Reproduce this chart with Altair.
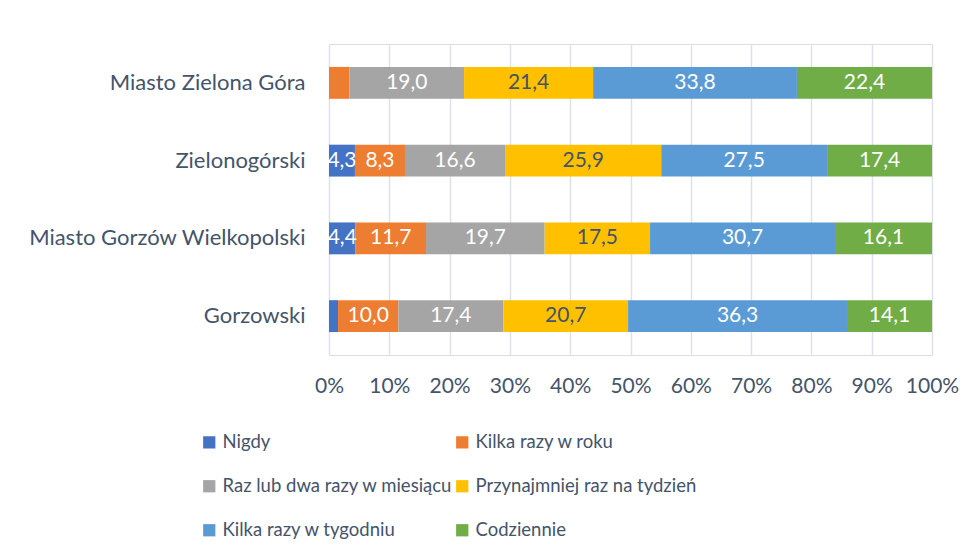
import altair as alt
import pandas as pd

categories = ["Miasto Zielona Góra", "Zielonogórski", "Miasto Gorzów Wielkopolski", "Gorzowski"]
series = ["Nigdy", "Kilka razy w roku", "Raz lub dwa razy w miesiącu",
          "Przynajmniej raz na tydzień", "Kilka razy w tygodniu", "Codziennie"]
colors = ["#4472C4", "#ED7D31", "#A5A5A5", "#FFC000", "#5B9BD5", "#70AD47"]
label_colors = ["#FFFFFF", "#FFFFFF", "#FFFFFF", "#44546A", "#FFFFFF", "#FFFFFF"]

nigdy = [0.0, 4.3, 4.4, 1.5]
kilka_rok = [3.4, 8.3, 11.7, 10.0]
raz_dwa = [19.0, 16.6, 19.7, 17.4]
przynajmniej = [21.4, 25.9, 17.5, 20.7]
kilka_tydz = [33.8, 27.5, 30.7, 36.3]
codziennie = [22.4, 17.4, 16.1, 14.1]
values = [nigdy, kilka_rok, raz_dwa, przynajmniej, kilka_tydz, codziennie]

rows = []
for si, (s, vals) in enumerate(zip(series, values)):
    for c, v in zip(categories, vals):
        rows.append({"cat": c, "series": s, "order": si, "v": v, "lc": label_colors[si]})
df = pd.DataFrame(rows)

FONT = "Lato"
TXT = "#44546A"
FS = 21

base = alt.Chart(df).transform_stack(
    stack="v", as_=["x0", "x1"], groupby=["cat"], sort=[alt.SortField("order")], offset="normalize"
)

y_enc = alt.Y("cat:N", sort=categories, title=None,
              scale=alt.Scale(paddingInner=0.59, paddingOuter=0.295),
              axis=alt.Axis(labelFontSize=22, labelColor=TXT, labelFont=FONT, ticks=False,
                            domain=False, labelPadding=24, grid=False, labelLimit=0))

bars = base.mark_bar().encode(
    x=alt.X("x0:Q", title=None, scale=alt.Scale(domain=[0, 1]),
            axis=alt.Axis(format="%", values=[i / 10 for i in range(11)], labelFontSize=FS,
                          labelColor=TXT, labelFont=FONT, ticks=False, domain=False,
                          labelOverlap=False, labelFlush=False,
                          labelPadding=20, grid=True, gridColor="#DDE1E8", gridWidth=1.5)),
    x2="x1:Q",
    y=y_enc,
    color=alt.Color("series:N", sort=series,
                    scale=alt.Scale(domain=series, range=colors),
                    legend=alt.Legend(title=None, orient="none", legendX=-129, legendY=389,
                                      direction="horizontal", columns=2,
                                      symbolType="square", symbolSize=150,
                                      symbolStrokeWidth=0, labelFontSize=18.5, labelColor=TXT,
                                      labelFont=FONT, rowPadding=25, columnPadding=0,
                                      labelOffset=4, labelLimit=0)),
    order=alt.Order("order:Q"),
)

labels = base.transform_filter("datum.v >= 4").transform_calculate(
    xm="(datum.x0 + datum.x1) / 2",
    lab="replace(format(datum.v, '.1f'), '.', ',')",
).mark_text(fontSize=FS, font=FONT).encode(
    x="xm:Q",
    y=alt.Y("cat:N", sort=categories),
    text="lab:N",
    color=alt.Color("lc:N", scale=None),
)

chart = alt.layer(bars, labels).properties(
    width=603, height=311,
    padding={"left": 321, "top": 36, "right": 36, "bottom": 194},
    autosize=alt.AutoSizeParams(type="none"),
).configure_view(stroke=None).configure(background="white")

chart.save("out.html", embed_options={"renderer": "svg", "actions": False})
